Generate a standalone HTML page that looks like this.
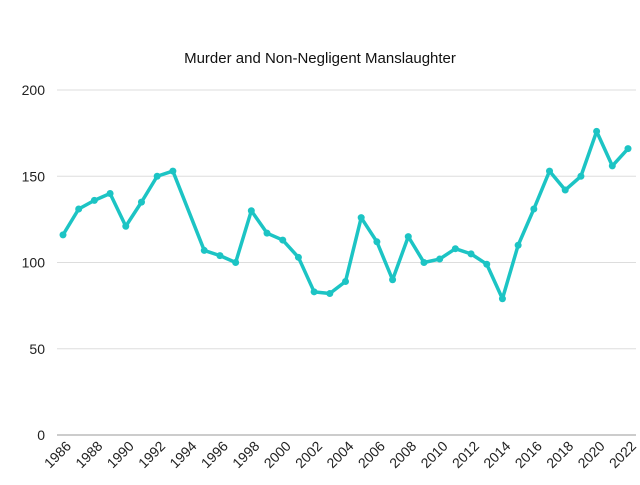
<!DOCTYPE html>
<html><head><meta charset="utf-8"><style>
body{margin:0;background:#fff;font-family:"Liberation Sans",sans-serif}
</style></head><body>
<svg id="c" width="640" height="480">
<rect width="640" height="480" fill="#fff"/>
<text x="320" y="63" text-anchor="middle" font-size="15" fill="#111">Murder and Non-Negligent Manslaughter</text>
<g id="grid"></g><g id="xl"></g><g id="ser"></g>
</svg>
<script>
const years=[1986,1987,1988,1989,1990,1991,1992,1993,1994,1995,1996,1997,1998,1999,2000,2001,2002,2003,2004,2005,2006,2007,2008,2009,2010,2011,2012,2013,2014,2015,2016,2017,2018,2019,2020,2021,2022];
const values=[116,131,136,140,121,135,150,153,null,107,104,100,130,117,113,103,83,82,89,126,112,90,115,100,102,108,105,99,79,110,131,153,142,150,176,156,166];
const yTicks=[0,50,100,150,200];
const NS="http://www.w3.org/2000/svg";
const x=y=>63+(y-1986)*(628-63)/36;
const yS=v=>435-v*(435-90)/200;
function mk(t,a,p){const e=document.createElementNS(NS,t);for(const k in a)e.setAttribute(k,a[k]);p.appendChild(e);return e;}
const g=document.getElementById('grid');
yTicks.forEach(t=>{
 const l=mk('line',{x1:57,x2:636,y1:yS(t),y2:yS(t),stroke:t===0?'#ccc':'#ddd','stroke-width':t===0?2:1},g);
 
 
 const tx=mk('text',{x:45,y:yS(t)+5,'text-anchor':'end','font-size':14,fill:'#222'},g);
 tx.textContent=t;
 
 
});
const xl=document.getElementById('xl');
years.forEach((yr,i)=>{
 if(i%2)return;
 const px=x(yr)+9,py=447;
 const t=mk('text',{x:px,y:py,'text-anchor':'end','font-size':14,fill:'#222',transform:`rotate(-45 ${px} ${py})`},xl);
 t.textContent=yr;
 
 
});
const s=document.getElementById('ser');
let d='';
years.forEach((yr,i)=>{const v=values[i];if(v==null)return;d+=(d?'L':'M')+x(yr)+','+yS(v);});
const p=mk('path',{d:d,fill:'none',stroke:'#1cc4c4','stroke-width':3.5,'stroke-linejoin':'round'},s);


years.forEach((yr,i)=>{const v=values[i];if(v==null)return;
 const c=mk('circle',{cx:x(yr),cy:yS(v),r:3.5,fill:'#1cc4c4'},s);
 
 
});
</script>
</body></html>
